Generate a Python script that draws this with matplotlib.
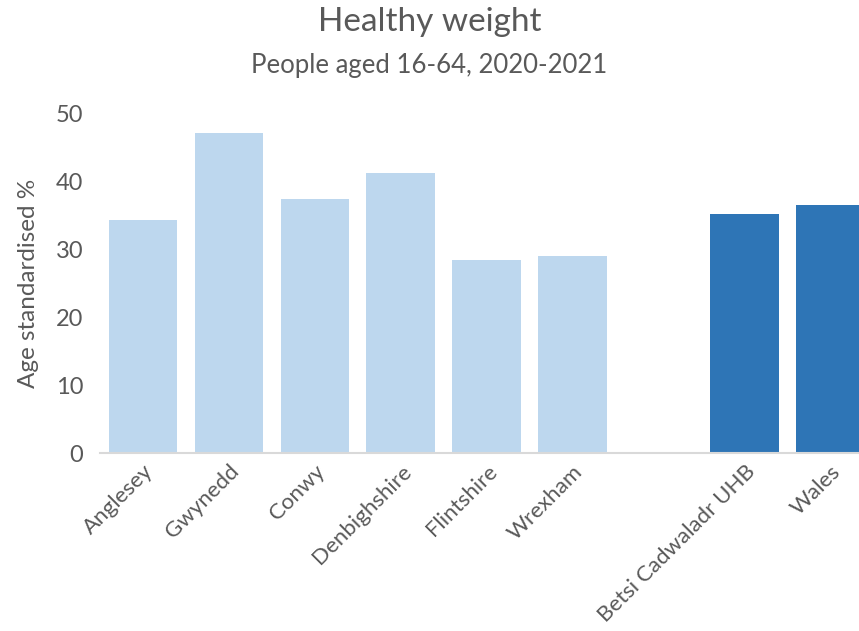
import numpy as np
import matplotlib.pyplot as plt

areas = ['Anglesey', 'Gwynedd', 'Conwy', 'Denbighshire', 'Flintshire', 'Wrexham']
area_values = [34.4, 47.2, 37.5, 41.3, 28.4, 29.1]
totals = ['Betsi Cadwaladr UHB', 'Wales']
total_values = [35.3, 36.6]
y_ticks = [0, 10, 20, 30, 40, 50]

plt.rcParams['font.family'] = ['Lato', 'DejaVu Sans']
grey = '#595959'

fig = plt.figure(figsize=(8.59, 6.31), dpi=100)
ax = fig.add_axes([100 / 859, 1 - 453 / 631, 1 - 100 / 859, (453 - 114) / 631])

x_areas = np.arange(len(areas))
x_totals = np.arange(len(totals)) + len(areas) + 1

ax.bar(x_areas, area_values, width=0.8, color='#BDD7EE')
ax.bar(x_totals, total_values, width=0.8, color='#2E75B6')

ax.set_xlim(-0.5, 8.33)
ax.set_ylim(0, 50)
ax.set_yticks(y_ticks)
ax.set_xticks(list(x_areas) + list(x_totals))
ax.set_xticklabels(areas + totals, rotation=45, ha='right', rotation_mode='anchor')

for side in ['top', 'right', 'left']:
    ax.spines[side].set_visible(False)
ax.spines['bottom'].set_color('#D9D9D9')
ax.spines['bottom'].set_linewidth(1.5)
ax.tick_params(axis='y', length=0, labelsize=17, colors=grey, pad=12)
ax.tick_params(axis='x', length=0, labelsize=16, colors=grey, pad=6)

ax.set_ylabel('Age standardised %', fontsize=17.5, color=grey, labelpad=12)

fig.text(0.5, 1 - 22 / 631, 'Healthy weight', ha='center', va='center', fontsize=24, color=grey)
fig.text(0.5, 1 - 65 / 631, 'People aged 16-64, 2020-2021', ha='center', va='center', fontsize=18.5, color=grey)

fig.savefig('out.png', dpi=100)
